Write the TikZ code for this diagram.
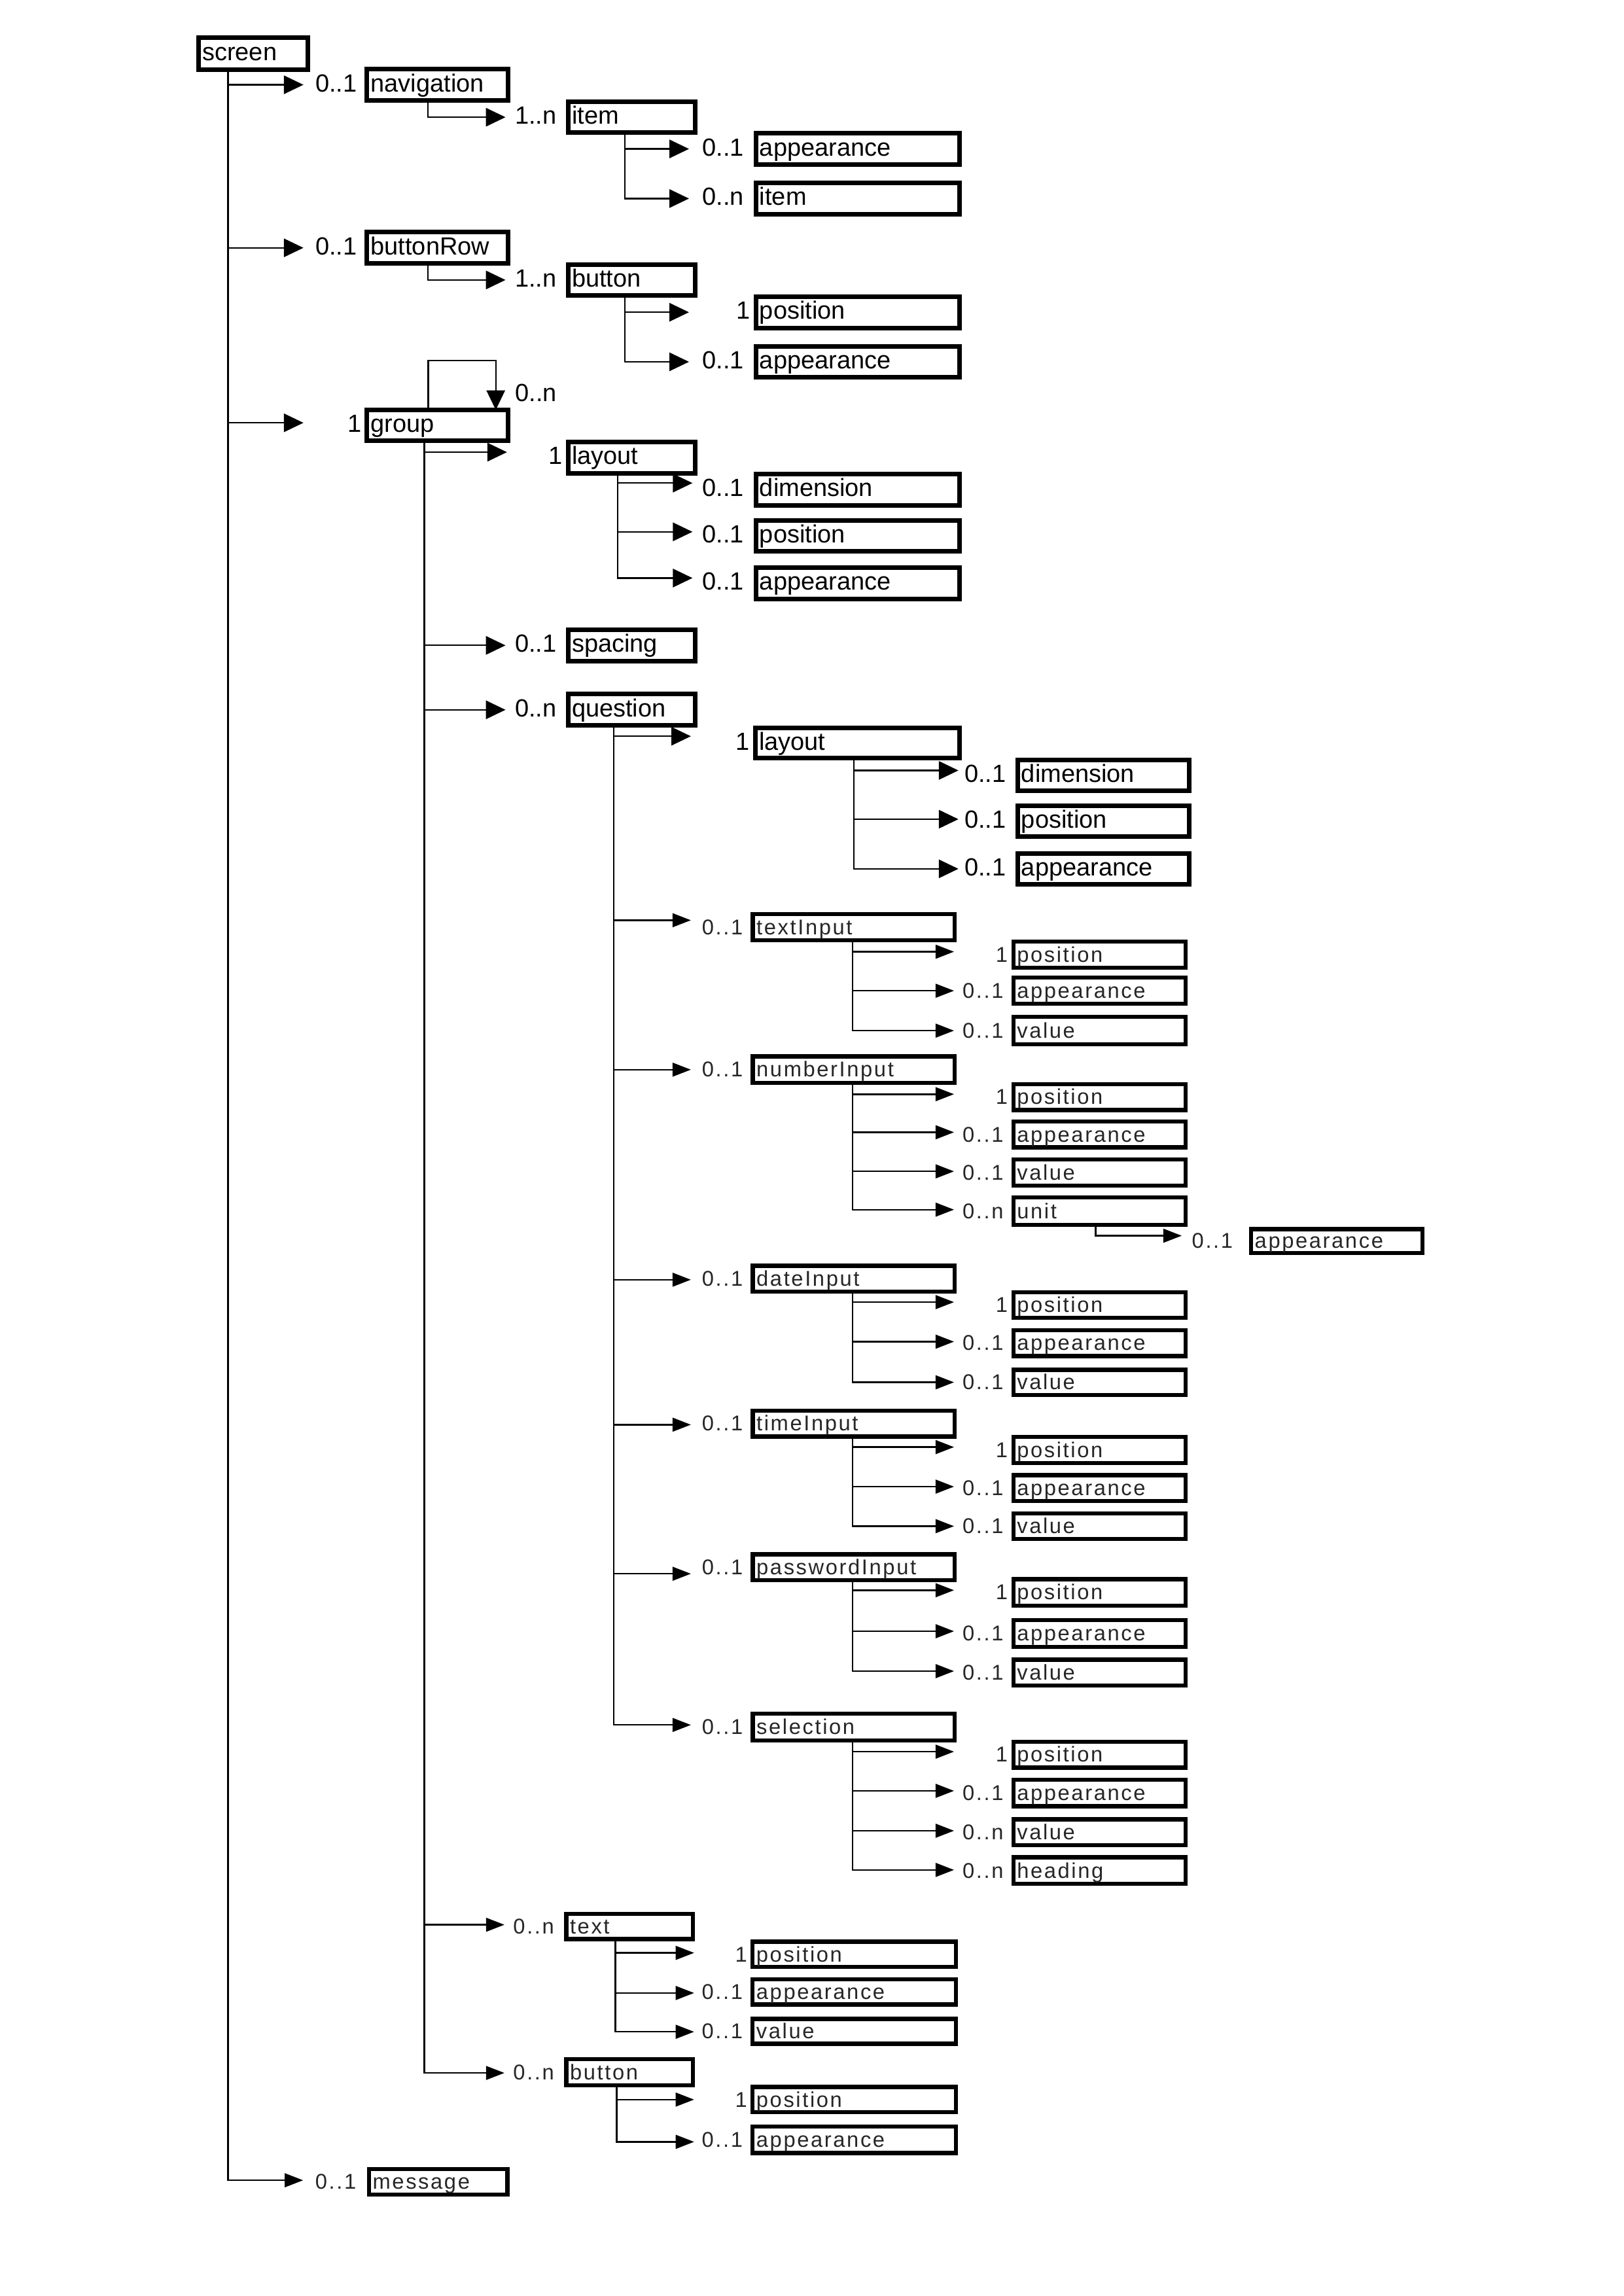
\documentclass[tikz,border=0pt]{standalone}
\usepackage{fontspec}
\setmainfont{Liberation Sans}
\newfontfamily\lowfam{Liberation Sans}[LetterSpace=8]
\usetikzlibrary{arrows.meta,calc}
\newcommand\fUp{\fontsize{10.8pt}{13pt}\selectfont}
\newcommand\fLow{\lowfam\fontsize{9.3pt}{11pt}\selectfont}
\def\uone{1}
\tikzset{
  upbox/.style={draw, line width=2pt, inner sep=0pt, outer sep=0pt, fill=white},
  lowbox/.style={draw, line width=1.8pt, inner sep=0pt, outer sep=0pt, fill=white},
  uptext/.style={inner sep=0pt, font=\fUp, text=black},
  lowtext/.style={inner sep=0pt, font=\fLow, text=black!85},
  uarr/.style={line width=0.65pt, -{Triangle[length=8.5pt,width=8pt]}},
  larr/.style={line width=0.7pt, -{Triangle[length=8pt,width=6pt]}}
}
% upper box: name, x1, y1, x2, y2, text, label, label offset
\newcommand\ubx[8]{%
  \pgfmathsetmacro\bw{(#4-#2-3.14)*0.6366}%
  \pgfmathsetmacro\bh{(#5-#3-3.14)*0.6366}%
  \node[upbox, minimum width=\bw pt, minimum height=\bh pt] (#1) at ({(#2+#4)/2},{(#3+#5)/2}) {};
  \node[uptext, anchor=base west] (#1-t) at ($(#1.west)+(2.3,4.7)$) {#6};
  \def\tmplab{#7}%
  \ifx\tmplab\uone\def\lanc{base east}\def\loff{-3.5}\else\def\lanc{base west}\def\loff{#8}\fi
  \node[uptext, anchor=\lanc] (#1-l) at ($(#1.west)+(\loff,4.7)$) {#7};}
\newcommand\lbx[8]{%
  \pgfmathsetmacro\bw{(#4-#2-2.83)*0.6366}%
  \pgfmathsetmacro\bh{(#5-#3-2.83)*0.6366}%
  \node[lowbox, minimum width=\bw pt, minimum height=\bh pt] (#1) at ({(#2+#4)/2},{(#3+#5)/2}) {};
  \node[lowtext, anchor=base west] (#1-t) at ($(#1.west)+(2.2,5)$) {#6};
  \def\tmplab{#7}%
  \ifx\tmplab\uone\def\lanc{base east}\def\loff{-3.5}\else\def\lanc{base west}\def\loff{#8}\fi
  \node[lowtext, anchor=\lanc] (#1-l) at ($(#1.west)+(\loff,5)$) {#7};}
% connectors: parent, spine dx, child, tip dx, dy
\newcommand\uc[5]{\draw[uarr] ($(#1.south west)+(#2,0)$) |- ($(#3.west)+(#4,#5)$);}
\newcommand\lc[5]{\draw[larr] ($(#1.south west)+(#2,0)$) |- ($(#3.west)+(#4,#5)$);}

\begin{document}
\begin{tikzpicture}[x=0.6366pt, y=-0.6366pt]
\fill[white] (0,0) rectangle (1109,1568);
\useasboundingbox (0,0) rectangle (1109,1568);

% ---------- upper part ----------
\pgfmathsetmacro\bw{(212-134-3.14)*0.6366}
\pgfmathsetmacro\bh{(49-24-3.14)*0.6366}
\node[upbox, minimum width=\bw pt, minimum height=\bh pt] (screen) at (173,36.5) {};
\node[uptext, anchor=base west] (screen-t) at ($(screen.west)+(2.3,4.7)$) {screen};

\ubx{nav}{249}{45.6}{348.6}{70.2}{navigation}{0..1}{-35.5}
\ubx{item}{386.4}{68}{476.3}{92.1}{item}{1..n}{-36.5}
\ubx{itemapp}{514.6}{89.4}{657}{114}{appearance}{0..1}{-36.7}
\ubx{itemitem}{514.6}{123.2}{657}{148}{item}{0..n}{-36.7}
\ubx{brow}{249}{157}{348.6}{181.5}{buttonRow}{0..1}{-35.5}
\ubx{btn}{386.4}{179.2}{476.3}{203.2}{button}{1..n}{-36.5}
\ubx{btnpos}{514.6}{201}{657}{225.5}{position}{1}{0}
\ubx{btnapp}{514.6}{234.9}{657}{259.3}{appearance}{0..1}{-36.7}
\ubx{group}{249}{278.4}{348.6}{302.7}{group}{1}{0}
\ubx{glay}{386.4}{300.3}{476.3}{324.7}{layout}{1}{0}
\ubx{gdim}{514.6}{322.2}{657}{346.6}{dimension}{0..1}{-36.7}
\ubx{gpos}{514.6}{353.8}{657}{378}{position}{0..1}{-36.7}
\ubx{gapp}{514.6}{386.2}{657}{410.5}{appearance}{0..1}{-36.7}
\ubx{spacing}{386.4}{428.5}{476.3}{453}{spacing}{0..1}{-36.5}
\ubx{question}{386.4}{472.5}{476.3}{497}{question}{0..n}{-36.5}
\ubx{qlay}{514.2}{495.4}{656.9}{519.4}{layout}{1}{0}
\ubx{qdim}{693.3}{517.3}{813.7}{541.6}{dimension}{0..1}{-36.4}
\ubx{qpos}{693.3}{548.9}{813.7}{573}{position}{0..1}{-36.4}
\ubx{qapp}{693.3}{581.3}{813.7}{605.4}{appearance}{0..1}{-36.4}

% ---------- lower part ----------
\lbx{tin}{512.7}{622.8}{653.5}{643.5}{textInput}{0..1}{-35}
\lbx{tinpos}{690.6}{641.7}{811}{662.2}{position}{1}{0}
\lbx{tinapp}{690.6}{666.2}{811}{687}{appearance}{0..1}{-35}
\lbx{tinval}{690.6}{693}{811}{714.7}{value}{0..1}{-35}
\lbx{nin}{512.7}{720}{653.5}{741}{numberInput}{0..1}{-35}
\lbx{ninpos}{690.6}{739}{811}{759.5}{position}{1}{0}
\lbx{ninapp}{690.6}{764.5}{811}{785}{appearance}{0..1}{-35}
\lbx{ninval}{690.6}{790.5}{811}{811}{value}{0..1}{-35}
\lbx{unit}{690.6}{816.2}{811}{838}{unit}{0..n}{-35}
\lbx{unitapp}{853}{838}{973}{857}{appearance}{0..1}{-40.7}
\lbx{din}{512.7}{863}{653.5}{883.5}{dateInput}{0..1}{-35}
\lbx{dinpos}{690.6}{881}{811}{901.5}{position}{1}{0}
\lbx{dinapp}{690.6}{907}{811}{927.5}{appearance}{0..1}{-35}
\lbx{dinval}{690.6}{934}{811}{954}{value}{0..1}{-35}
\lbx{tmin}{512.7}{962}{653.5}{982.5}{timeInput}{0..1}{-35}
\lbx{tminpos}{690.6}{980}{811}{1000.5}{position}{1}{0}
\lbx{tminapp}{690.6}{1006}{811}{1026.5}{appearance}{0..1}{-35}
\lbx{tminval}{690.6}{1032}{811}{1052.5}{value}{0..1}{-35}
\lbx{pin}{512.7}{1060}{653.5}{1080.5}{passwordInput}{0..1}{-35}
\lbx{pinpos}{690.6}{1077}{811}{1098}{position}{1}{0}
\lbx{pinapp}{690.6}{1105}{811}{1126}{appearance}{0..1}{-35}
\lbx{pinval}{690.6}{1132}{811}{1152.5}{value}{0..1}{-35}
\lbx{sel}{512.7}{1169}{653.5}{1190}{selection}{0..1}{-35}
\lbx{selpos}{690.6}{1188}{811}{1208.5}{position}{1}{0}
\lbx{selapp}{690.6}{1214}{811}{1235}{appearance}{0..1}{-35}
\lbx{selval}{690.6}{1241}{811}{1261.5}{value}{0..n}{-35}
\lbx{selhead}{690.6}{1267}{811}{1288}{heading}{0..n}{-35}
\lbx{text}{385.3}{1305.6}{474.5}{1325.7}{text}{0..n}{-36.5}
\lbx{textpos}{512.6}{1324.6}{654.4}{1344.7}{position}{1}{0}
\lbx{textapp}{512.6}{1350.4}{654.4}{1370.3}{appearance}{0..1}{-35}
\lbx{textval}{512.6}{1377.3}{654.4}{1397.2}{value}{0..1}{-35}
\lbx{gbtn}{385.3}{1404.7}{474.5}{1425.6}{button}{0..n}{-36.5}
\lbx{gbtnpos}{512.6}{1423.8}{654.4}{1443.9}{position}{1}{0}
\lbx{gbtnapp}{512.6}{1450.9}{654.4}{1471.7}{appearance}{0..1}{-35}
\lbx{msg}{250.6}{1479.9}{348}{1500}{message}{0..1}{-37}

% ---------- connectors ----------
\uc{screen}{20.25}{nav}{-43.35}{0}
\uc{nav}{41.65}{item}{-42.75}{0}
\uc{item}{38.75}{itemapp}{-45.65}{0}
\uc{item}{38.75}{itemitem}{-45.65}{0}
\uc{screen}{20.25}{brow}{-43.35}{0}
\uc{brow}{41.65}{btn}{-42.75}{0}
\uc{btn}{38.75}{btnpos}{-45.65}{0}
\uc{btn}{38.75}{btnapp}{-45.65}{0}
\uc{screen}{20.25}{group}{-43.35}{-1.8}
\draw[uarr] ($(group.north west)+(41.95,0)$) -- ++(0,-33.7) -| ($(group.north west)+(88,0)$);
\node[uptext, anchor=base west] (grouploop-l) at ($(group.north west)+(101,-5.7)$) {0..n};
\uc{group}{39.15}{glay}{-41.75}{-3.7}
\uc{glay}{33.95}{gdim}{-43.25}{-4.5}
\uc{glay}{33.95}{gpos}{-43.25}{-2.7}
\uc{glay}{33.95}{gapp}{-43.25}{-3.6}
\uc{group}{39.15}{spacing}{-42.75}{0}
\uc{group}{39.15}{question}{-42.75}{0}
\uc{question}{31.15}{qlay}{-43.95}{-4.6}
\uc{qlay}{67.25}{qdim}{-40.35}{-3.3}
\uc{qlay}{67.25}{qpos}{-40.35}{-1.5}
\uc{qlay}{67.25}{qapp}{-40.35}{0}

\lc{question}{31.15}{tin}{-42.3}{-4.7}
\lc{tin}{68.1}{tinpos}{-40.5}{-2}
\lc{tin}{68.1}{tinapp}{-40.5}{0}
\lc{tin}{68.1}{tinval}{-40.5}{0}
\lc{question}{31.15}{nin}{-42.3}{0}
\lc{nin}{68.1}{ninpos}{-40.5}{-2}
\lc{nin}{68.1}{ninapp}{-40.5}{-1.5}
\lc{nin}{68.1}{ninval}{-40.5}{-0.8}
\lc{nin}{68.1}{unit}{-40.5}{-1}
\lc{unit}{56.2}{unitapp}{-47.4}{-3.6}
\lc{question}{31.15}{din}{-42.3}{0.7}
\lc{din}{68.1}{dinpos}{-40.5}{-2}
\lc{din}{68.1}{dinapp}{-40.5}{-1}
\lc{din}{68.1}{dinval}{-40.5}{0}
\lc{question}{31.15}{tmin}{-42.3}{0.7}
\lc{tmin}{68.1}{tminpos}{-40.5}{-2}
\lc{tmin}{68.1}{tminapp}{-40.5}{-1}
\lc{tmin}{68.1}{tminval}{-40.5}{0}
\lc{question}{31.15}{pin}{-42.3}{4.5}
\lc{pin}{68.1}{pinpos}{-40.5}{-1.5}
\lc{pin}{68.1}{pinapp}{-40.5}{-1.5}
\lc{pin}{68.1}{pinval}{-40.5}{-1}
\lc{question}{31.15}{sel}{-42.3}{-1.5}
\lc{sel}{68.1}{selpos}{-40.5}{-2}
\lc{sel}{68.1}{selapp}{-40.5}{-1.5}
\lc{sel}{68.1}{selval}{-40.5}{-1}
\lc{sel}{68.1}{selhead}{-40.5}{-0.5}
\lc{group}{39.15}{text}{-42.25}{-1.2}
\lc{text}{33.5}{textpos}{-40}{-1}
\lc{text}{33.5}{textapp}{-40}{0.7}
\lc{text}{33.5}{textval}{-40}{0.3}
\lc{group}{39.15}{gbtn}{-42.25}{0.5}
\lc{gbtn}{34.5}{gbtnpos}{-40}{0}
\lc{gbtn}{34.5}{gbtnapp}{-40}{1.4}
\lc{screen}{20.25}{msg}{-45}{-1}
\end{tikzpicture}
\end{document}
